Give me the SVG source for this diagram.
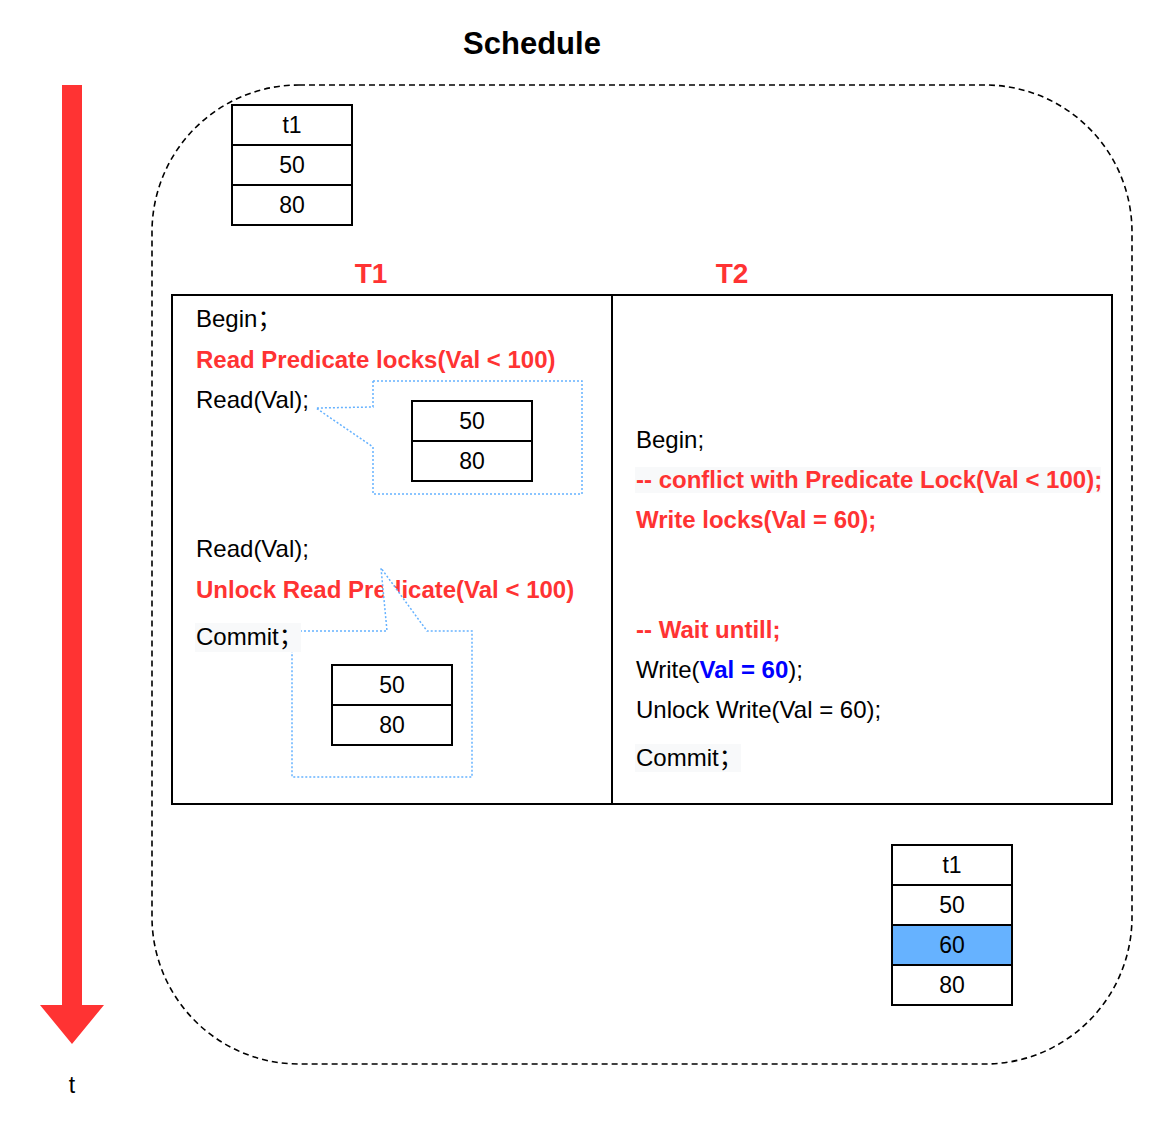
<svg xmlns="http://www.w3.org/2000/svg" width="1152" height="1130" viewBox="0 0 1152 1130">
  <style>
    text { font-family: "Liberation Sans", Arial, Helvetica, "Noto Sans CJK SC", sans-serif; font-size: 23px; fill: #000; }
    .code { font-size: 24px; }
    .c { text-anchor: middle; }
    .red { fill: #FF3333; font-weight: bold; }
    .blue { fill: #0000FF; font-weight: bold; }
    .title { font-size: 31px; font-weight: bold; }
    .tx { font-size: 28px; font-weight: bold; fill: #FF3333; }
    .cell { fill: #fff; stroke: #000; stroke-width: 2; }
    .hl { fill: #66B2FF; stroke: #000; stroke-width: 2; }
    .callout { fill: #fff; stroke: #66B2FF; stroke-width: 1.5; stroke-dasharray: 2 2; }
    .bg { fill: #F8F9FA; }
  </style>

  <rect width="1152" height="1130" fill="#fff"/>

  <!-- title -->
  <text class="title c" x="532" y="54">Schedule</text>

  <!-- time axis -->
  <g id="time-axis">
    <polygon points="62,85 82,85 82,1005 104,1005 72,1044 40,1005 62,1005" fill="#FF3333"/>
    <text class="c" x="72" y="1093">t</text>
  </g>

  <!-- schedule boundary -->
  <rect id="schedule" x="152" y="85" width="980" height="979" rx="147" ry="147" fill="none" stroke="#000" stroke-width="1.6" stroke-dasharray="6 4"/>

  <!-- initial table state -->
  <g id="table-start">
    <rect class="cell" x="232" y="105" width="120" height="40"/>
    <rect class="cell" x="232" y="145" width="120" height="40"/>
    <rect class="cell" x="232" y="185" width="120" height="40"/>
    <text class="c" x="292" y="133">t1</text>
    <text class="c" x="292" y="173">50</text>
    <text class="c" x="292" y="213">80</text>
  </g>

  <!-- transaction headers -->
  <text class="tx c" x="371" y="283">T1</text>
  <text class="tx c" x="732" y="283">T2</text>

  <!-- transaction table -->
  <g id="transactions">
    <rect x="172" y="295" width="940" height="509" fill="#fff" stroke="#000" stroke-width="2"/>
    <line x1="612" y1="295" x2="612" y2="804" stroke="#000" stroke-width="2"/>
  </g>

  <!-- T1 steps -->
  <g id="t1-steps" class="code">
    <text class="code" x="196" y="327">Begin；</text>
    <text class="code red" x="196" y="368">Read Predicate locks(Val &lt; 100)</text>
    <text class="code" x="196" y="408">Read(Val);</text>
    <text class="code" x="196" y="557">Read(Val);</text>
    <text class="code red" x="196" y="598">Unlock Read Predicate(Val &lt; 100)</text>
  </g>

  <!-- T2 steps -->
  <g id="t2-steps">
    <text class="code" x="636" y="448">Begin;</text>
    <rect class="bg" x="635" y="467" width="466" height="26"/>
    <text class="code red" x="636" y="488">-- conflict with Predicate Lock(Val &lt; 100);</text>
    <text class="code red" x="636" y="528">Write locks(Val = 60);</text>
    <text class="code red" x="636" y="638">-- Wait untill;</text>
    <text class="code" x="636" y="678">Write(<tspan class="blue">Val = 60</tspan>);</text>
    <text class="code" x="636" y="718">Unlock Write(Val = 60);</text>
    <rect class="bg" x="635" y="744" width="106" height="28"/>
    <text class="code" x="636" y="766">Commit；</text>
  </g>

  <!-- first read result -->
  <g id="read-1">
    <polygon class="callout" points="373,381 582,381 582,494 373,494 373,447 316,408 373,407"/>
    <rect class="cell" x="412" y="401" width="120" height="40"/>
    <rect class="cell" x="412" y="441" width="120" height="40"/>
    <text class="c" x="472" y="429">50</text>
    <text class="c" x="472" y="469">80</text>
  </g>

  <!-- second read result -->
  <g id="read-2">
    <polygon class="callout" points="292,631 387,631 381,568 427,631 472,631 472,777 292,777"/>
    <rect class="cell" x="332" y="665" width="120" height="40"/>
    <rect class="cell" x="332" y="705" width="120" height="40"/>
    <text class="c" x="392" y="693">50</text>
    <text class="c" x="392" y="733">80</text>
  </g>

  <!-- T1 commit -->
  <g id="t1-commit">
    <rect class="bg" x="195" y="623" width="106" height="29"/>
    <text class="code" x="196" y="645">Commit；</text>
  </g>

  <!-- final table state -->
  <g id="table-end">
    <rect class="cell" x="892" y="845" width="120" height="40"/>
    <rect class="cell" x="892" y="885" width="120" height="40"/>
    <rect class="hl" x="892" y="925" width="120" height="40"/>
    <rect class="cell" x="892" y="965" width="120" height="40"/>
    <text class="c" x="952" y="873">t1</text>
    <text class="c" x="952" y="913">50</text>
    <text class="c" x="952" y="953">60</text>
    <text class="c" x="952" y="993">80</text>
  </g>
</svg>
